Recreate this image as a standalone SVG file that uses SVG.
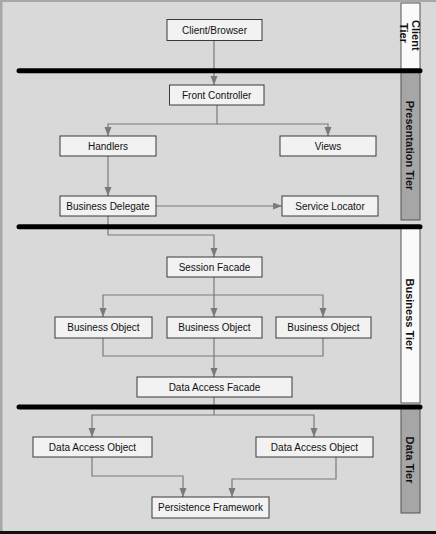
<svg xmlns="http://www.w3.org/2000/svg" width="436" height="534" viewBox="0 0 436 534">
<defs>
<style>
.bg{fill:#d9d9d9}
.node rect{fill:#f2f2f2;stroke:#3a3a3a;stroke-width:1}
.node text{font-family:"Liberation Sans",Arial,sans-serif;font-size:10px;fill:#111;text-anchor:middle}
.conn path{fill:none;stroke:#7a7a7a;stroke-width:1.2}
.sep{stroke:#000;stroke-width:5;stroke-linecap:round}
.tier-light{fill:#fafafa;stroke:#555;stroke-width:1}
.tier-dark{fill:#a6a6a6;stroke:#555;stroke-width:1}
.tier text{font-family:"Liberation Sans",Arial,sans-serif;font-size:11px;font-weight:bold;fill:#111}
</style>
<marker id="arr" markerWidth="9" markerHeight="8" refX="9" refY="3.5" orient="auto" markerUnits="userSpaceOnUse">
<path d="M0,0 L9,3.5 L0,7 z" fill="#7a7a7a"/>
</marker>
</defs>
<rect class="bg" x="0" y="0" width="436" height="534"/>
<rect x="0" y="0" width="2.5" height="534" fill="#a8a8a8"/>
<rect x="0" y="0" width="436" height="2" fill="#a8a8a8"/>
<rect x="0" y="531" width="436" height="3" fill="#111"/>

<g id="tiers" class="tier">
<g id="tier-client">
<rect class="tier-light" x="401" y="3" width="19" height="67"/>
<text transform="translate(412,20) rotate(90)">Client</text>
<text transform="translate(399.5,23) rotate(90)">Tier</text>
</g>
<g id="tier-presentation">
<rect class="tier-dark" x="401" y="70" width="19" height="150"/>
<text transform="translate(405.5,145.5) rotate(90)" text-anchor="middle">Presentation Tier</text>
</g>
<g id="tier-business">
<rect class="tier-light" x="401" y="227" width="19" height="176"/>
<text transform="translate(405.5,314.5) rotate(90)" text-anchor="middle">Business Tier</text>
</g>
<g id="tier-data">
<rect class="tier-dark" x="401" y="407" width="19" height="106"/>
<text transform="translate(405.5,460) rotate(90)" text-anchor="middle">Data Tier</text>
</g>
</g>

<g id="connectors" class="conn">
<path d="M214,40 V85" marker-end="url(#arr)"/>
<path d="M217,105 V124 H108 V136" marker-end="url(#arr)"/>
<path d="M217,124 H328 V136" marker-end="url(#arr)"/>
<path d="M108,156 V196" marker-end="url(#arr)"/>
<path d="M156,206 H282" marker-end="url(#arr)"/>
<path d="M108,216 V235 H214 V257" marker-end="url(#arr)"/>
<path d="M214,277 V295 H103 V317" marker-end="url(#arr)"/>
<path d="M214,295 V317" marker-end="url(#arr)"/>
<path d="M214,295 H323 V317" marker-end="url(#arr)"/>
<path d="M103,338 V356 H214 V377" marker-end="url(#arr)"/>
<path d="M323,338 V356 H214"/>
<path d="M214,338 V356"/>
<path d="M214,397 V415 H92 V437" marker-end="url(#arr)"/>
<path d="M214,415 H314 V437" marker-end="url(#arr)"/>
<path d="M92,457 V476 H183 V497" marker-end="url(#arr)"/>
<path d="M336,457 V479 H232 V497" marker-end="url(#arr)"/>
</g>

<g id="separators">
<line class="sep" x1="19" y1="70.7" x2="420" y2="70.7"/>
<line class="sep" x1="19" y1="226.7" x2="420" y2="226.7"/>
<line class="sep" x1="19" y1="407" x2="420" y2="407"/>
</g>

<g id="client-browser" class="node"><rect x="167" y="19.5" width="95" height="21"/><text x="214.5" y="34">Client/Browser</text></g>
<g id="front-controller" class="node"><rect x="169.5" y="85" width="94.5" height="20"/><text x="216.7" y="99">Front Controller</text></g>
<g id="handlers" class="node"><rect x="60" y="136" width="96" height="20"/><text x="108" y="150">Handlers</text></g>
<g id="views" class="node"><rect x="280" y="136" width="96" height="20"/><text x="328" y="150">Views</text></g>
<g id="business-delegate" class="node"><rect x="60" y="196" width="96" height="20"/><text x="108" y="210">Business Delegate</text></g>
<g id="service-locator" class="node"><rect x="282" y="196" width="96" height="20"/><text x="330" y="210">Service Locator</text></g>
<g id="session-facade" class="node"><rect x="167" y="257" width="95" height="20"/><text x="214.5" y="271">Session Facade</text></g>
<g id="business-object-1" class="node"><rect x="55" y="317" width="97" height="21"/><text x="103.5" y="331">Business Object</text></g>
<g id="business-object-2" class="node"><rect x="167" y="317" width="95" height="21"/><text x="214.5" y="331">Business Object</text></g>
<g id="business-object-3" class="node"><rect x="276" y="317" width="95" height="21"/><text x="323.5" y="331">Business Object</text></g>
<g id="data-access-facade" class="node"><rect x="137" y="377" width="155" height="20"/><text x="214.5" y="391">Data Access Facade</text></g>
<g id="data-access-object-1" class="node"><rect x="33" y="437" width="119" height="20"/><text x="92.5" y="451">Data Access Object</text></g>
<g id="data-access-object-2" class="node"><rect x="256" y="437" width="117" height="20"/><text x="314.5" y="451">Data Access Object</text></g>
<g id="persistence-framework" class="node"><rect x="152" y="497" width="117" height="21"/><text x="210.5" y="511">Persistence Framework</text></g>
</svg>
